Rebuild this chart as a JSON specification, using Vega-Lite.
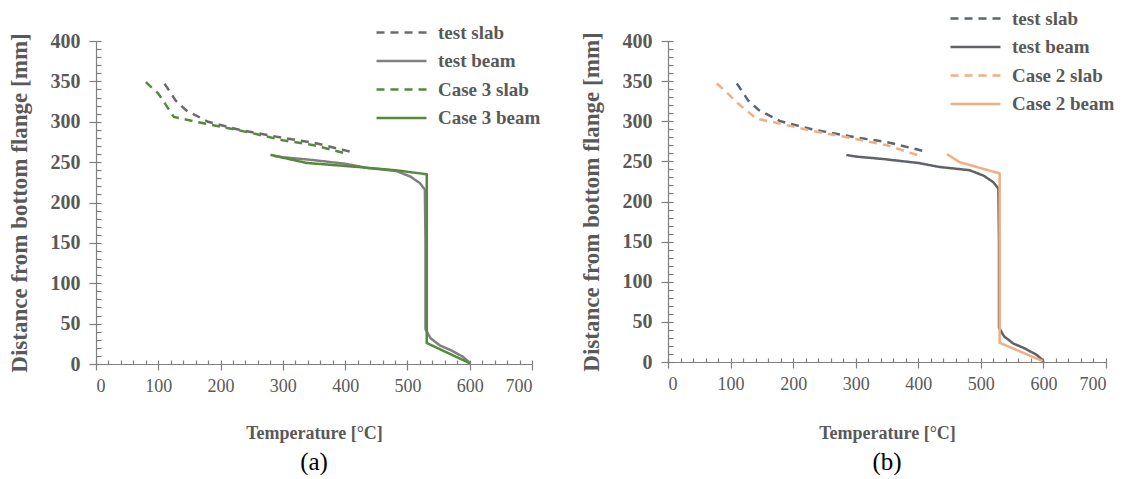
{
  "$schema": "https://vega.github.io/schema/vega-lite/v6.json",
  "padding": {"left": 8, "top": 7, "right": 0, "bottom": 0},
  "background": "white",
  "config": {
    "font": "Liberation Serif",
    "view": {"stroke": null},
    "axis": {"labelFont": "Liberation Serif", "titleFont": "Liberation Serif", "labelColor": "#595959", "titleColor": "#595959", "domainColor": "#7f7f7f", "tickColor": "#7f7f7f", "domainWidth": 1.2, "tickWidth": 1.2, "grid": false},
    "legend": {"labelFont": "Liberation Serif", "labelFontWeight": "bold", "labelFontSize": 19, "labelColor": "#595959", "symbolType": "M-2.5,0H2.5", "symbolSize": 400, "symbolStrokeWidth": 2.5, "symbolFillColor": "transparent", "labelOffset": 25, "rowPadding": 6.5, "title": null, "padding": 0},
    "title": {"font": "Liberation Serif", "fontWeight": "normal", "fontSize": 25, "color": "#000000", "orient": "bottom", "anchor": "middle", "frame": "group", "offset": 8}
  },
  "datasets": {
    "a": [
      {"s": "test slab", "T": 110, "D": 347, "i": 1},
      {"s": "test slab", "T": 118, "D": 338, "i": 2},
      {"s": "test slab", "T": 128, "D": 326, "i": 3},
      {"s": "test slab", "T": 145, "D": 314, "i": 4},
      {"s": "test slab", "T": 180, "D": 300, "i": 5},
      {"s": "test slab", "T": 230, "D": 290, "i": 6},
      {"s": "test slab", "T": 300, "D": 280, "i": 7},
      {"s": "test slab", "T": 350, "D": 274, "i": 8},
      {"s": "test slab", "T": 408, "D": 263, "i": 9},
      {"s": "test beam", "T": 285, "D": 258, "i": 1},
      {"s": "test beam", "T": 300, "D": 256, "i": 2},
      {"s": "test beam", "T": 343, "D": 253, "i": 3},
      {"s": "test beam", "T": 400, "D": 248, "i": 4},
      {"s": "test beam", "T": 434, "D": 243, "i": 5},
      {"s": "test beam", "T": 482, "D": 239, "i": 6},
      {"s": "test beam", "T": 505, "D": 232, "i": 7},
      {"s": "test beam", "T": 520, "D": 224, "i": 8},
      {"s": "test beam", "T": 528, "D": 216, "i": 9},
      {"s": "test beam", "T": 529, "D": 150, "i": 10},
      {"s": "test beam", "T": 529, "D": 43, "i": 11},
      {"s": "test beam", "T": 537, "D": 32, "i": 12},
      {"s": "test beam", "T": 552, "D": 23, "i": 13},
      {"s": "test beam", "T": 570, "D": 17, "i": 14},
      {"s": "test beam", "T": 589, "D": 9, "i": 15},
      {"s": "test beam", "T": 598, "D": 3, "i": 16},
      {"s": "test beam", "T": 600, "D": 0, "i": 17},
      {"s": "Case 3 slab", "T": 80, "D": 349, "i": 1},
      {"s": "Case 3 slab", "T": 100, "D": 335, "i": 2},
      {"s": "Case 3 slab", "T": 113, "D": 320, "i": 3},
      {"s": "Case 3 slab", "T": 125, "D": 306, "i": 4},
      {"s": "Case 3 slab", "T": 160, "D": 300, "i": 5},
      {"s": "Case 3 slab", "T": 200, "D": 294, "i": 6},
      {"s": "Case 3 slab", "T": 250, "D": 286, "i": 7},
      {"s": "Case 3 slab", "T": 300, "D": 277, "i": 8},
      {"s": "Case 3 slab", "T": 350, "D": 271, "i": 9},
      {"s": "Case 3 slab", "T": 405, "D": 260, "i": 10},
      {"s": "Case 3 beam", "T": 280, "D": 259, "i": 1},
      {"s": "Case 3 beam", "T": 338, "D": 249, "i": 2},
      {"s": "Case 3 beam", "T": 420, "D": 244, "i": 3},
      {"s": "Case 3 beam", "T": 480, "D": 240, "i": 4},
      {"s": "Case 3 beam", "T": 531, "D": 235, "i": 5},
      {"s": "Case 3 beam", "T": 531, "D": 26, "i": 6},
      {"s": "Case 3 beam", "T": 600, "D": 1, "i": 7}
    ],
    "b": [
      {"s": "test slab", "T": 110, "D": 347, "i": 1},
      {"s": "test slab", "T": 118, "D": 338, "i": 2},
      {"s": "test slab", "T": 128, "D": 326, "i": 3},
      {"s": "test slab", "T": 145, "D": 314, "i": 4},
      {"s": "test slab", "T": 180, "D": 300, "i": 5},
      {"s": "test slab", "T": 230, "D": 290, "i": 6},
      {"s": "test slab", "T": 300, "D": 280, "i": 7},
      {"s": "test slab", "T": 350, "D": 274, "i": 8},
      {"s": "test slab", "T": 408, "D": 263, "i": 9},
      {"s": "test beam", "T": 285, "D": 258, "i": 1},
      {"s": "test beam", "T": 300, "D": 256, "i": 2},
      {"s": "test beam", "T": 343, "D": 253, "i": 3},
      {"s": "test beam", "T": 400, "D": 248, "i": 4},
      {"s": "test beam", "T": 434, "D": 243, "i": 5},
      {"s": "test beam", "T": 482, "D": 239, "i": 6},
      {"s": "test beam", "T": 505, "D": 232, "i": 7},
      {"s": "test beam", "T": 520, "D": 224, "i": 8},
      {"s": "test beam", "T": 528, "D": 216, "i": 9},
      {"s": "test beam", "T": 529, "D": 150, "i": 10},
      {"s": "test beam", "T": 529, "D": 43, "i": 11},
      {"s": "test beam", "T": 537, "D": 32, "i": 12},
      {"s": "test beam", "T": 552, "D": 23, "i": 13},
      {"s": "test beam", "T": 570, "D": 17, "i": 14},
      {"s": "test beam", "T": 589, "D": 9, "i": 15},
      {"s": "test beam", "T": 598, "D": 3, "i": 16},
      {"s": "test beam", "T": 600, "D": 0, "i": 17},
      {"s": "Case 2 slab", "T": 78, "D": 347, "i": 1},
      {"s": "Case 2 slab", "T": 95, "D": 335, "i": 2},
      {"s": "Case 2 slab", "T": 112, "D": 322, "i": 3},
      {"s": "Case 2 slab", "T": 142, "D": 303, "i": 4},
      {"s": "Case 2 slab", "T": 174, "D": 298, "i": 5},
      {"s": "Case 2 slab", "T": 230, "D": 288, "i": 6},
      {"s": "Case 2 slab", "T": 300, "D": 278, "i": 7},
      {"s": "Case 2 slab", "T": 350, "D": 270, "i": 8},
      {"s": "Case 2 slab", "T": 406, "D": 256, "i": 9},
      {"s": "Case 2 beam", "T": 446, "D": 259, "i": 1},
      {"s": "Case 2 beam", "T": 466, "D": 249, "i": 2},
      {"s": "Case 2 beam", "T": 530, "D": 235, "i": 3},
      {"s": "Case 2 beam", "T": 530, "D": 24, "i": 4},
      {"s": "Case 2 beam", "T": 599, "D": 1, "i": 5}
    ]
  },
  "align": "none",
  "hconcat": [
    {
      "width": 436,
      "height": 323,
      "title": {"text": "(a)"},
      "data": {"name": "a"},
      "resolve": {"axis": {"x": "independent", "y": "independent"}},
      "layer": [
        {
          "mark": {"type": "line", "strokeWidth": 2.5},
          "encoding": {
            "x": {"field": "T", "type": "quantitative", "scale": {"domain": [0, 700], "nice": false, "zero": false},
              "axis": {"orient": "bottom", "values": [0, 100, 200, 300, 400, 500, 600, 700], "labelFont": "Liberation Serif", "titleFont": "Liberation Serif", "labelFontSize": 18, "tickSize": 6, "labelPadding": 7, "title": "Temperature [°C]", "titleFontSize": 18, "titleFontWeight": "bold", "titlePadding": 29}},
            "y": {"field": "D", "type": "quantitative", "scale": {"domain": [0, 400], "nice": false, "zero": false},
              "axis": {"orient": "left", "values": [0, 50, 100, 150, 200, 250, 300, 350, 400], "labelFont": "Liberation Serif", "titleFont": "Liberation Serif", "labelFontSize": 20, "labelFontWeight": "bold", "tickSize": 7, "labelPadding": 9, "title": "Distance from bottom flange [mm]", "titleFontSize": 23, "titleFontWeight": "bold", "titlePadding": 19}},
            "color": {"field": "s", "type": "nominal", "scale": {"domain": ["test slab", "test beam", "Case 3 slab", "Case 3 beam"], "range": ["#6b6b6b", "#808080", "#568a3b", "#568a3b"]},
              "legend": {"orient": "none", "legendX": 294, "legendY": -20, "labelFont": "Liberation Serif"}},
            "strokeDash": {"field": "s", "type": "nominal", "scale": {"domain": ["test slab", "test beam", "Case 3 slab", "Case 3 beam"], "range": [[8, 6], [1, 0], [8, 6], [1, 0]]},
              "legend": {"orient": "none", "legendX": 294, "legendY": -20, "labelFont": "Liberation Serif"}},
            "order": {"field": "i", "type": "quantitative"}
          }
        },
        {
          "mark": {"type": "point", "opacity": 0},
          "encoding": {
            "x": {"field": "T", "type": "quantitative",
              "axis": {"orient": "bottom", "values": [0,20,40,60,80,100,120,140,160,180,200,220,240,260,280,300,320,340,360,380,400,420,440,460,480,500,520,540,560,580,600,620,640,660,680,700], "labels": false, "domain": false, "tickSize": -4, "title": null}},
            "y": {"field": "D", "type": "quantitative",
              "axis": {"orient": "left", "values": [0,10,20,30,40,50,60,70,80,90,100,110,120,130,140,150,160,170,180,190,200,210,220,230,240,250,260,270,280,290,300,310,320,330,340,350,360,370,380,390,400], "labels": false, "domain": false, "tickSize": -5, "title": null}}
          }
        }
      ]
    },
    {
      "width": 438,
      "height": 321,
      "title": {"text": "(b)"},
      "data": {"name": "b"},
      "resolve": {"axis": {"x": "independent", "y": "independent"}},
      "layer": [
        {
          "mark": {"type": "line", "strokeWidth": 2.5},
          "encoding": {
            "x": {"field": "T", "type": "quantitative", "scale": {"domain": [0, 700], "nice": false, "zero": false},
              "axis": {"orient": "bottom", "values": [0, 100, 200, 300, 400, 500, 600, 700], "labelFont": "Liberation Serif", "titleFont": "Liberation Serif", "labelFontSize": 18, "tickSize": 6, "labelPadding": 7, "title": "Temperature [°C]", "titleFontSize": 18, "titleFontWeight": "bold", "titlePadding": 31}},
            "y": {"field": "D", "type": "quantitative", "scale": {"domain": [0, 400], "nice": false, "zero": false},
              "axis": {"orient": "left", "values": [0, 50, 100, 150, 200, 250, 300, 350, 400], "labelFont": "Liberation Serif", "titleFont": "Liberation Serif", "labelFontSize": 20, "labelFontWeight": "bold", "tickSize": 7, "labelPadding": 9, "title": "Distance from bottom flange [mm]", "titleFontSize": 23, "titleFontWeight": "bold", "titlePadding": 19}},
            "color": {"field": "s", "type": "nominal", "scale": {"domain": ["test slab", "test beam", "Case 2 slab", "Case 2 beam"], "range": ["#5b6673", "#5f6368", "#f2ae82", "#f2ae82"]},
              "legend": {"orient": "none", "legendX": 296, "legendY": -34, "labelFont": "Liberation Serif"}},
            "strokeDash": {"field": "s", "type": "nominal", "scale": {"domain": ["test slab", "test beam", "Case 2 slab", "Case 2 beam"], "range": [[8, 6], [1, 0], [8, 6], [1, 0]]},
              "legend": {"orient": "none", "legendX": 296, "legendY": -34, "labelFont": "Liberation Serif"}},
            "order": {"field": "i", "type": "quantitative"}
          }
        },
        {
          "mark": {"type": "point", "opacity": 0},
          "encoding": {
            "x": {"field": "T", "type": "quantitative",
              "axis": {"orient": "bottom", "values": [0,20,40,60,80,100,120,140,160,180,200,220,240,260,280,300,320,340,360,380,400,420,440,460,480,500,520,540,560,580,600,620,640,660,680,700], "labels": false, "domain": false, "tickSize": -4, "title": null}},
            "y": {"field": "D", "type": "quantitative",
              "axis": {"orient": "left", "values": [0,10,20,30,40,50,60,70,80,90,100,110,120,130,140,150,160,170,180,190,200,210,220,230,240,250,260,270,280,290,300,310,320,330,340,350,360,370,380,390,400], "labels": false, "domain": false, "tickSize": -5, "title": null}}
          }
        }
      ]
    }
  ],
  "spacing": 39,
  "resolve": {"scale": {"color": "independent", "strokeDash": "independent"}, "legend": {"color": "independent", "strokeDash": "independent"}}
}
